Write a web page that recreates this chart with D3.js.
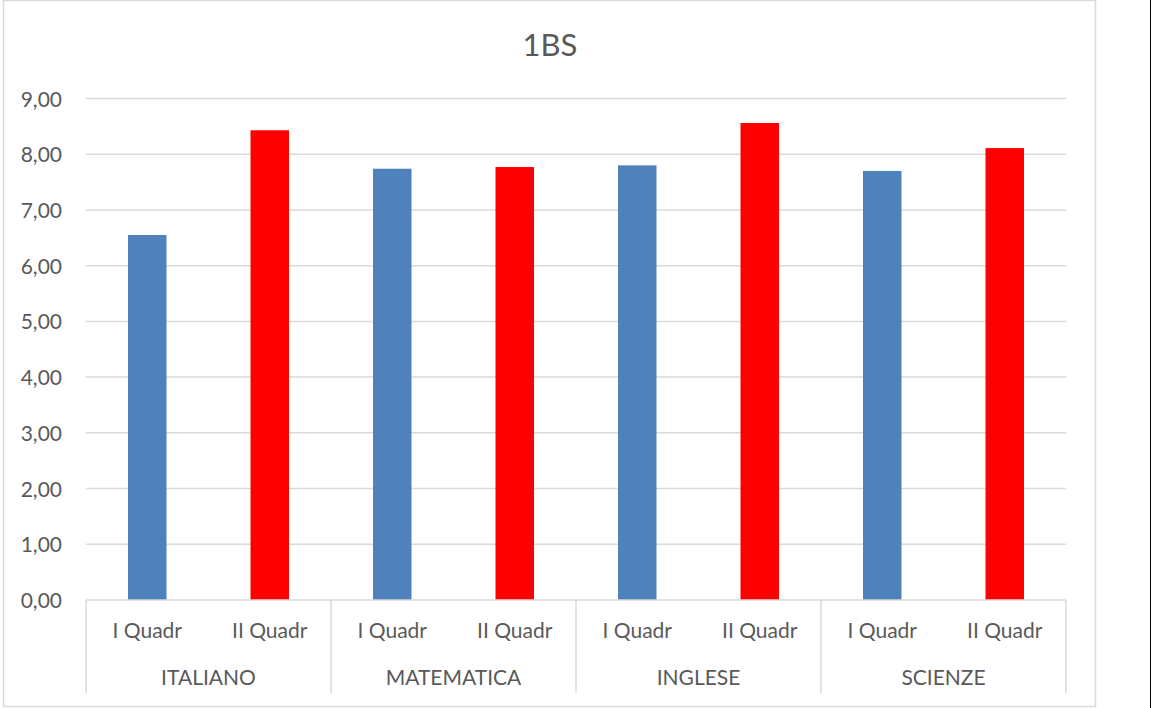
<!DOCTYPE html>
<html>
<head>
<meta charset="utf-8">
<script src="https://cdn.jsdelivr.net/npm/d3@7"></script>
<style>
  body { margin: 0; background: #fff; }
  text { font-family: Lato, "Open Sans", sans-serif; fill: #595959; }
</style>
</head>
<body>
<svg id="chart" width="1151" height="708"></svg>
<script>
var subjects = ["ITALIANO", "MATEMATICA", "INGLESE", "SCIENZE"];
var periods = ["I Quadr", "II Quadr"];
var firstTerm = [6.55, 7.74, 7.80, 7.70];
var secondTerm = [8.43, 7.77, 8.56, 8.11];
var yTicks = [0, 1, 2, 3, 4, 5, 6, 7, 8, 9];
var colors = ["#4F81BD", "#FF0000"];

var svg = d3.select("#chart");

// chart frame
svg.append("rect")
  .attr("x", 3.5).attr("y", 0.5)
  .attr("width", 1092).attr("height", 706)
  .attr("fill", "#fff")
  .attr("stroke", "#D9D9D9")
  .attr("stroke-width", 1.5);

svg.append("line")
  .attr("x1", 1150.5).attr("x2", 1150.5)
  .attr("y1", 0).attr("y2", 708)
  .attr("stroke", "#000");

var plotLeft = 86, plotRight = 1066, plotTop = 98.5, plotBottom = 600;

var x0 = d3.scaleBand().domain(subjects).range([plotLeft, plotRight]);
var x1 = d3.scaleBand().domain(periods).range([0, x0.bandwidth()]);
var y = d3.scaleLinear().domain([0, 9]).range([plotBottom, plotTop]);
var barW = 38.5;

svg.append("text")
  .attr("x", 550)
  .attr("y", 56)
  .attr("text-anchor", "middle")
  .style("font-size", "31px")
  .text("1BS");

// gridlines
svg.append("g")
  .selectAll("line")
  .data(yTicks.filter(function(d) { return d > 0; }))
  .enter()
  .append("line")
  .attr("x1", plotLeft).attr("x2", plotRight)
  .attr("y1", function(d) { return y(d); })
  .attr("y2", function(d) { return y(d); })
  .attr("stroke", "#D9D9D9")
  .attr("stroke-width", 1.5);

// y labels
svg.append("g")
  .selectAll("text")
  .data(yTicks)
  .enter()
  .append("text")
  .attr("x", 62)
  .attr("y", function(d) { return y(d) + 8; })
  .attr("text-anchor", "end")
  .style("font-size", "21px")
  .text(function(d) { return d3.format(".2f")(d).replace(".", ","); });

var rows = [];
subjects.forEach(function(s, i) {
  rows.push({ subject: s, period: periods[0], value: firstTerm[i], c: 0 });
  rows.push({ subject: s, period: periods[1], value: secondTerm[i], c: 1 });
});

svg.append("g")
  .selectAll("rect")
  .data(rows)
  .enter()
  .append("rect")
  .attr("x", function(d) { return x0(d.subject) + x1(d.period) + (x1.bandwidth() - barW) / 2; })
  .attr("width", barW)
  .attr("y", function(d) { return y(d.value); })
  .attr("height", function(d) { return y(0) - y(d.value); })
  .attr("fill", function(d) { return colors[d.c]; });

// category axis
var axis = svg.append("g");
axis.append("line")
  .attr("x1", plotLeft).attr("x2", plotRight)
  .attr("y1", plotBottom).attr("y2", plotBottom)
  .attr("stroke", "#D9D9D9")
  .attr("stroke-width", 1.5);

axis.selectAll(".sep")
  .data(subjects.map(function(s) { return x0(s); }).concat([plotRight]))
  .enter()
  .append("line")
  .attr("class", "sep")
  .attr("x1", function(d) { return d; })
  .attr("x2", function(d) { return d; })
  .attr("y1", plotBottom).attr("y2", 693)
  .attr("stroke", "#D9D9D9")
  .attr("stroke-width", 1.5);

axis.selectAll(".per")
  .data(rows)
  .enter()
  .append("text")
  .attr("class", "per")
  .attr("x", function(d) { return x0(d.subject) + x1(d.period) + x1.bandwidth() / 2; })
  .attr("y", 638)
  .attr("text-anchor", "middle")
  .style("font-size", "21px")
  .text(function(d) { return d.period; });

axis.selectAll(".subj")
  .data(subjects)
  .enter()
  .append("text")
  .attr("class", "subj")
  .attr("x", function(d) { return x0(d) + x0.bandwidth() / 2; })
  .attr("y", 685)
  .attr("text-anchor", "middle")
  .style("font-size", "21px")
  .text(function(d) { return d; });
</script>
</body>
</html>
